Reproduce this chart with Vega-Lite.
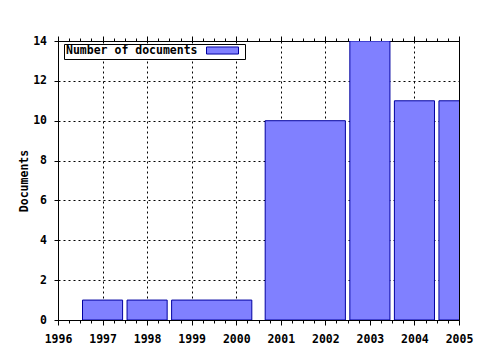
{
  "$schema": "https://vega.github.io/schema/vega-lite/v6.json",
  "width": 401,
  "height": 279,
  "autosize": {"type": "none"},
  "padding": {"left": 58, "top": 41, "right": 21, "bottom": 30},
  "background": "white",
  "config": {
    "view": {"stroke": "black", "strokeWidth": 1},
    "axis": {
      "labelFont": "DejaVu Sans Mono",
      "labelFontWeight": "bold",
      "labelFontSize": 11.5,
      "labelColor": "black",
      "titleFont": "DejaVu Sans Mono",
      "titleFontWeight": "bold",
      "titleFontSize": 11.5,
      "titleColor": "black",
      "tickColor": "black",
      "domain": false,
      "gridColor": "black",
      "gridDash": [2, 3],
      "gridOpacity": 1
    }
  },
  "data": {
    "values": [
      {"start": 1996.55, "end": 1997.45, "count": 1},
      {"start": 1997.55, "end": 1998.45, "count": 1},
      {"start": 1998.55, "end": 2000.35, "count": 1},
      {"start": 2000.65, "end": 2002.45, "count": 10},
      {"start": 2002.55, "end": 2003.45, "count": 14},
      {"start": 2003.55, "end": 2004.45, "count": 11},
      {"start": 2004.55, "end": 2005.45, "count": 11}
    ]
  },
  "encoding": {
    "x2": {"field": "end"},
    "y": {
      "field": "count", "type": "quantitative",
      "scale": {"domain": [0, 14], "nice": false},
      "axis": {
        "title": "Documents",
        "values": [0, 2, 4, 6, 8, 10, 12, 14],
        "tickSize": 4, "labelPadding": 7.5,
        "grid": true,
        "titleAngle": 270,
        "titleX": -31, "titleY": 139.5,
        "titleAlign": "center", "titleBaseline": "alphabetic"
      }
    },
    "y2": {"datum": 0}
  },
  "resolve": {"axis": {"x": "independent"}},
  "layer": [
    {
      "mark": {"type": "rect", "stroke": "#0000a0", "strokeWidth": 1, "clip": true},
      "encoding": {
        "x": {
          "field": "start", "type": "quantitative",
          "scale": {"domain": [1996, 2005], "nice": false, "zero": false},
          "axis": {
            "orient": "bottom", "title": null, "format": "d",
            "values": [1996, 1997, 1998, 1999, 2000, 2001, 2002, 2003, 2004, 2005],
            "tickSize": 5, "labelPadding": 8, "labelBaseline": "top",
            "grid": true, "labelFlush": false, "labelOverlap": false
          }
        },
        "fill": {
          "datum": "Number of documents",
          "scale": {"domain": ["Number of documents"], "range": ["#8080ff"]},
          "legend": {
            "orient": "none", "legendX": 6, "legendY": 3,
            "title": "Number of documents",
            "titleOrient": "left",
            "titleFont": "DejaVu Sans Mono", "titleFontWeight": "bold",
            "titleFontSize": 11.5, "titleColor": "black",
            "titlePadding": 8,
            "titleBaseline": "middle",
            "titleAnchor": "middle",
            "labelExpr": "''", "labelOffset": 4,
            "clipHeight": 9,
            "symbolType": "M-1,-0.22H1V0.22H-1Z",
            "symbolSize": 1024,
            "symbolStrokeColor": "#0000a0", "symbolStrokeWidth": 1,
            "symbolFillColor": "#8080ff",
            "strokeColor": "black", "fillColor": "white",
            "padding": 2
          }
        }
      }
    },
    {
      "mark": {"type": "rect", "opacity": 0},
      "encoding": {
        "x": {
          "field": "start", "type": "quantitative",
          "axis": {
            "orient": "bottom", "title": null, "labels": false, "grid": false,
            "tickSize": 3,
            "values": [1996.25, 1996.5, 1996.75, 1997.25, 1997.5, 1997.75, 1998.25, 1998.5, 1998.75, 1999.25, 1999.5, 1999.75, 2000.25, 2000.5, 2000.75, 2001.25, 2001.5, 2001.75, 2002.25, 2002.5, 2002.75, 2003.25, 2003.5, 2003.75, 2004.25, 2004.5, 2004.75]
          }
        }
      }
    },
    {
      "mark": {"type": "rect", "opacity": 0},
      "encoding": {
        "x": {
          "field": "start", "type": "quantitative",
          "axis": {
            "orient": "top", "title": null, "labels": false, "grid": false,
            "tickSize": 5,
            "values": [1996, 1997, 1998, 1999, 2000, 2001, 2002, 2003, 2004, 2005]
          }
        }
      }
    },
    {
      "mark": {"type": "rect", "opacity": 0},
      "encoding": {
        "x": {
          "field": "start", "type": "quantitative",
          "axis": {
            "orient": "top", "title": null, "labels": false, "grid": false,
            "tickSize": 3,
            "values": [1996.25, 1996.5, 1996.75, 1997.25, 1997.5, 1997.75, 1998.25, 1998.5, 1998.75, 1999.25, 1999.5, 1999.75, 2000.25, 2000.5, 2000.75, 2001.25, 2001.5, 2001.75, 2002.25, 2002.5, 2002.75, 2003.25, 2003.5, 2003.75, 2004.25, 2004.5, 2004.75]
          }
        }
      }
    }
  ]
}
